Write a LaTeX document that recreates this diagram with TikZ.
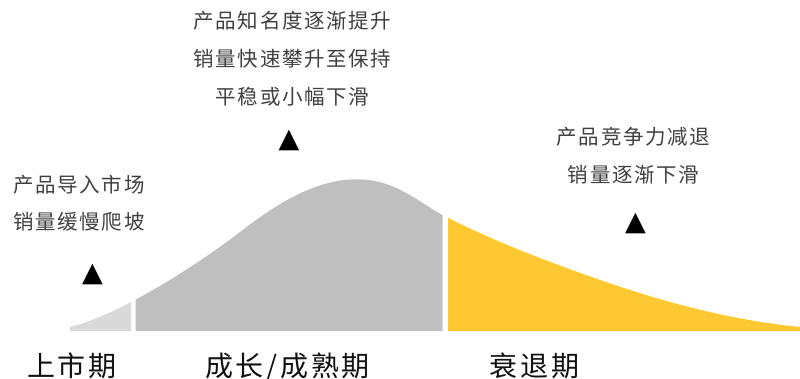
\documentclass[tikz,border=0pt]{standalone}
\usepackage{fontspec}
\setmainfont{Noto Sans CJK SC}
\newfontfamily\symfont{DejaVu Sans}
\definecolor{introgray}{HTML}{D9D9D9}
\definecolor{growgray}{HTML}{BFBFBF}
\definecolor{declineyellow}{HTML}{FDC832}
\definecolor{notegray}{HTML}{404040}
\definecolor{stagetext}{HTML}{111111}
\newcommand\bellcurve{(70,-327) .. controls (120,-315) and (200,-263) .. (240,-232)
  .. controls (280,-200.8) and (318,-179.3) .. (357,-179.3)
  .. controls (397,-179.3) and (420,-204) .. (448,-218)
  .. controls (498,-243) and (550,-262.5) .. (600,-280)
  .. controls (667,-303.3) and (733,-320.4) .. (800,-327)
  -- (800,-331) -- (70,-331) -- cycle}
\tikzset{
  x=1pt, y=1pt,
  note/.style={font=\fontsize{20.5}{24}\selectfont\addfontfeatures{LetterSpace=8}, text=notegray, inner sep=0pt, align=center},
  stage/.style={font=\fontsize{28}{32}\selectfont\addfontfeatures{LetterSpace=10}, text=stagetext, inner sep=0pt, anchor=base},
  marker/.style={font=\symfont\fontsize{27}{27}\selectfont, text=black, inner sep=0pt},
}
\begin{document}
\begin{tikzpicture}
\useasboundingbox (0,0) rectangle (800,-379);
% curve pieces
\begin{scope}
  \clip (60,-100) rectangle (131,-340);
  \fill[introgray] \bellcurve;
\end{scope}
\begin{scope}
  \clip (135.5,-100) rectangle (442.5,-340);
  \fill[growgray] \bellcurve;
\end{scope}
\begin{scope}
  \clip (448,-100) rectangle (800,-340);
  \fill[declineyellow] \bellcurve;
\end{scope}
% notes
\node[note] (n1a) at (79,-185) {产品导入市场};
\node[note] (n1b) at (79,-222) {销量缓慢爬坡};
\node[note] (n2a) at (292.5,-20.5) {产品知名度逐渐提升};
\node[note] (n2b) at (292.5,-58.5) {销量快速攀升至保持};
\node[note] (n2c) at (292.5,-96.5) {平稳或小幅下滑};
\node[note] (n3a) at (633.5,-137) {产品竞争力减退};
\node[note] (n3b) at (633.5,-175) {销量逐渐下滑};
% markers
\node[marker] (m1) at (92.5,-274) {▲};
\node[marker] (m2) at (289,-140) {▲};
\node[marker] (m3) at (635.5,-223.5) {▲};
% stage labels
\node[stage] (s1) at (72,-376) {上市期};
\node[stage] (s2) at (287.5,-376) {成长/成熟期};
\node[stage] (s3) at (534.5,-376) {衰退期};
\end{tikzpicture}
\end{document}
